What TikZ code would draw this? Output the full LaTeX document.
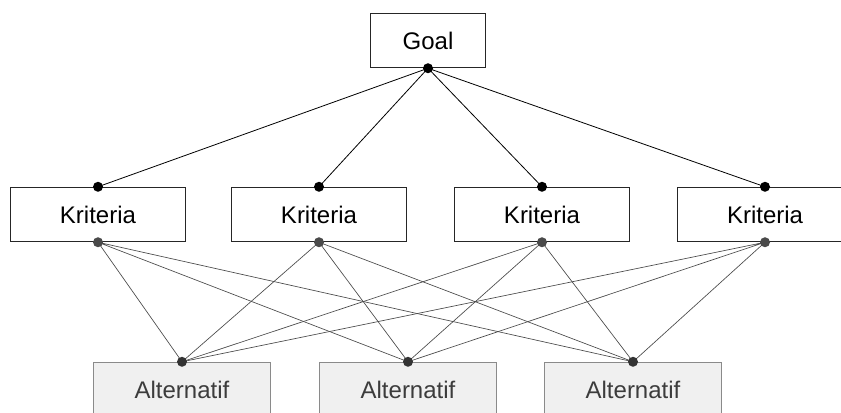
\documentclass[tikz,border=0pt]{standalone}
\usepackage{fontspec}
\setmainfont{Liberation Sans}
\definecolor{altfill}{HTML}{F0F0F0}
\definecolor{altdraw}{HTML}{8A8A8A}
\definecolor{alttext}{HTML}{3C3C3C}
\definecolor{linkgray}{HTML}{4A4A4A}
\begin{document}
\begin{tikzpicture}[x=0.75pt, y=-0.75pt,
    box/.style={draw=black!85, fill=white, line width=0.6pt, minimum height=41pt,
                inner sep=0pt, font=\fontsize{18}{20}\selectfont},
    altbox/.style={box, draw=altdraw, fill=altfill, text=alttext, minimum width=133pt},
    dot/.style={circle, fill=black, inner sep=0pt, minimum size=7.5pt},
    greydot/.style={dot, fill=linkgray}]
    \useasboundingbox (0,0) rectangle (841,412);
    % alternatives first, so the criteria sit on top
    \node[altbox] (alt1) at (182,389.5) {Alternatif};
    \node[altbox] (alt2) at (408,389.5) {Alternatif};
    \node[altbox] (alt3) at (633,389.5) {Alternatif};
    \node[box, minimum width=86pt] (goal) at (428,40.5) {Goal};
    \node[box, minimum width=131pt] (kr1) at (98,214.5) {Kriteria};
    \node[box, minimum width=131pt] (kr2) at (319,214.5) {Kriteria};
    \node[box, minimum width=131pt] (kr3) at (542,214.5) {Kriteria};
    \node[box, minimum width=131pt] (kr4) at (765,214.5) {Kriteria};
    % goal to criteria
    \draw[line width=0.6pt] (goal.south) -- (kr1.north);
    \draw[line width=0.6pt] (goal.south) -- (kr2.north);
    \draw[line width=0.6pt] (goal.south) -- (kr3.north);
    \draw[line width=0.6pt] (goal.south) -- (kr4.north);
    % criteria to alternatives
    \draw[linkgray, line width=0.5pt] (kr1.south) -- (alt1.north) (kr1.south) -- (alt2.north) (kr1.south) -- (alt3.north);
    \draw[linkgray, line width=0.5pt] (kr2.south) -- (alt1.north) (kr2.south) -- (alt2.north) (kr2.south) -- (alt3.north);
    \draw[linkgray, line width=0.5pt] (kr3.south) -- (alt1.north) (kr3.south) -- (alt2.north) (kr3.south) -- (alt3.north);
    \draw[linkgray, line width=0.5pt] (kr4.south) -- (alt1.north) (kr4.south) -- (alt2.north) (kr4.south) -- (alt3.north);
    % end points
    \node[dot] (gs) at (goal.south) {};
    \node[dot] (k1n) at (kr1.north) {};
    \node[dot] (k2n) at (kr2.north) {};
    \node[dot] (k3n) at (kr3.north) {};
    \node[dot] (k4n) at (kr4.north) {};
    \node[greydot] (k1s) at (kr1.south) {};
    \node[greydot] (k2s) at (kr2.south) {};
    \node[greydot] (k3s) at (kr3.south) {};
    \node[greydot] (k4s) at (kr4.south) {};
    \node[dot, fill=black!80] (a1n) at (alt1.north) {};
    \node[dot, fill=black!80] (a2n) at (alt2.north) {};
    \node[dot, fill=black!80] (a3n) at (alt3.north) {};
\end{tikzpicture}
\end{document}
